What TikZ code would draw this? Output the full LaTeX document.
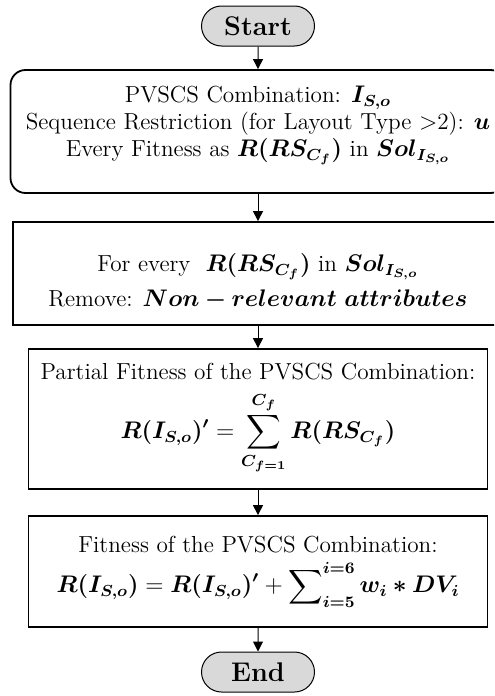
\documentclass[tikz,border=0pt]{standalone}
\usepackage{amsmath}
\usepackage{bm}
\usetikzlibrary{shapes.misc,arrows.meta}

\definecolor{pillgray}{HTML}{D9D9D9}

\tikzset{
  terminal/.style={rounded rectangle, draw, line width=0.5pt, fill=pillgray,
    minimum width=58.5pt, minimum height=20pt, inner sep=1pt,
    font=\fontsize{13.5}{15}\selectfont\bfseries},
  stepbox/.style={draw, line width=0.9pt, align=center, inner sep=1pt},
  flow/.style={-{Triangle[length=5pt,width=5pt]}, line width=0.5pt},
}

\begin{document}
\begin{tikzpicture}[x=0.5pt, y=-0.5pt, font=\fontsize{11.6}{13.5}\selectfont]
    % Page frame (pixels of the reference)
    \useasboundingbox (0,0) rectangle (494,696);
    \clip (0,0) rectangle (494,696);

    % Start
    \node[terminal] (start) at (258,26) {Start};

    % Inputs (rounded box)
    \node[stepbox, rounded corners=7.5pt, minimum width=247.5pt, minimum height=61.5pt]
        (combo) at (258,131.5)
        {PVSCS Combination: $\bm{I_{S,o}}$\\
         Sequence Restriction (for Layout Type $>$2): $\bm{u}$\\
         Every Fitness as $\bm{R(RS_{C_f})}$ in $\bm{Sol_{I_{S,o}}}$\\[-3.5pt]\mbox{}};

    % Removal step
    \node[stepbox, minimum width=245pt, minimum height=51.5pt]
        (remove) at (258,273.5)
        {\rule{0pt}{17pt}For every~ $\bm{R(RS_{C_f})}$ in $\bm{Sol_{I_{S,o}}}$\\[4pt]
         Remove: $\bm{Non-relevant\ attributes}$};

    % Partial fitness
    \node[stepbox, minimum width=229.5pt, minimum height=70pt]
        (partial) at (258,419)
        {Partial Fitness of the PVSCS Combination:\\[5pt]
         $\displaystyle \bm{R(I_{S,o})'} = \sum_{\bm{C_{f=1}}}^{\bm{C_f}} \bm{R(RS_{C_f})}$};

    % Total fitness
    \node[stepbox, minimum width=229.5pt, minimum height=55.5pt]
        (total) at (258,571.5)
        {Fitness of the PVSCS Combination:\\[4pt]
         $\displaystyle \bm{R(I_{S,o})} = \bm{R(I_{S,o})'} + \sum\nolimits_{\bm{i=5}}^{\bm{i=6}} \bm{w_i * DV_i}$};

    % End
    \node[terminal] (end) at (258,672) {End};

    % Connectors
    \foreach \a/\b in {start/combo, combo/remove, remove/partial, partial/total, total/end}
        \draw[flow] (\a) -- (\b);
\end{tikzpicture}
\end{document}
